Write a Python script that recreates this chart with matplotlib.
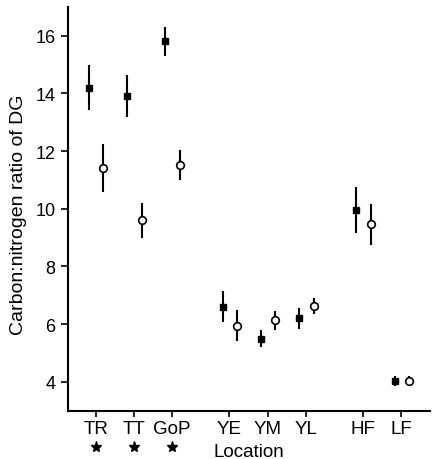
import numpy as np
import matplotlib.pyplot as plt

# data
locations = ['TR', 'TT', 'GoP', 'YE', 'YM', 'YL', 'HF', 'LF']
positions = [0, 1, 2, 3.5, 4.5, 5.5, 7, 8]
filled_mean = [14.2, 13.9, 15.8, 6.6, 5.5, 6.2, 9.95, 4.03]
filled_err = [0.77, 0.72, 0.5, 0.54, 0.3, 0.37, 0.8, 0.18]
open_mean = [11.4, 9.6, 11.5, 5.95, 6.13, 6.62, 9.46, 4.03]
open_err = [0.83, 0.6, 0.52, 0.53, 0.32, 0.27, 0.7, 0.16]
starred = ['TR', 'TT', 'GoP']

plt.rcParams['font.family'] = ['Liberation Sans', 'DejaVu Sans']

fig = plt.figure(figsize=(4.34, 4.6), dpi=100)
ax = fig.add_axes([0.157, 0.105, 0.834, 0.878])

pos = np.array(positions)
ax.errorbar(pos - 0.18, filled_mean, yerr=filled_err, fmt='s', color='black',
            markersize=5, elinewidth=1.5, capsize=0)
ax.errorbar(pos + 0.2, open_mean, yerr=open_err, fmt='o', color='black',
            markerfacecolor='white', markeredgewidth=1.2, markersize=5.5,
            elinewidth=1.5, capsize=0)

ax.set_xlim(-0.72, 8.75)
ax.set_ylim(3, 17)
ax.set_yticks([4, 6, 8, 10, 12, 14, 16])
ax.set_xticks(positions)
ax.set_xticklabels(locations)
ax.tick_params(axis='both', width=1.2, color='black')
ax.tick_params(axis='y', length=5, labelsize=13, pad=4)
ax.tick_params(axis='x', length=4, labelsize=13.5, pad=3)

for s in ['top', 'right']:
    ax.spines[s].set_visible(False)
for s in ['left', 'bottom']:
    ax.spines[s].set_linewidth(1.5)

# significance stars under the first three locations
star_x = [positions[locations.index(n)] for n in starred]
ax.plot(star_x, [-0.09] * len(star_x), '*', color='black', markersize=8,
        transform=ax.get_xaxis_transform(), clip_on=False)

ax.set_xlabel('Location', fontsize=13.5, labelpad=4)
ax.set_ylabel('Carbon:nitrogen ratio of DG', fontsize=14)
ax.yaxis.set_label_coords(-0.115, 0.487)

fig.savefig('out.png', dpi=100)
